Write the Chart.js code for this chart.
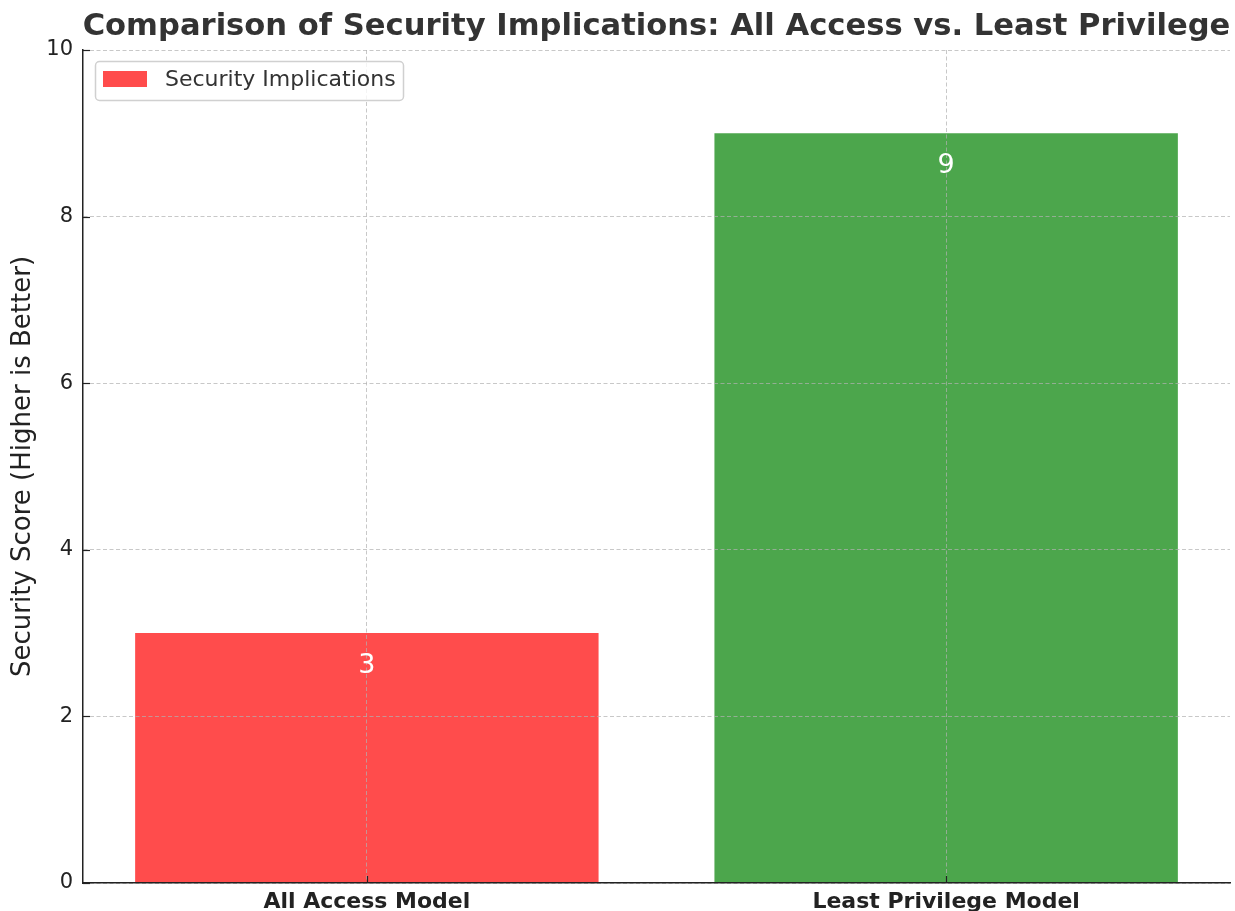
<!DOCTYPE html>
<html>
<head>
<meta charset="utf-8">
<script src="https://cdn.jsdelivr.net/npm/chart.js@4.4.1/dist/chart.umd.min.js"></script>
<style>
  html, body { margin: 0; padding: 0; background: #fff; }
  #wrap { width: 1235px; height: 911px; position: relative; }
</style>
</head>
<body>
<div id="wrap"><canvas id="c" width="1235" height="911"></canvas></div>
<script>
const chartTitle = 'Comparison of Security Implications: All Access vs. Least Privilege';
const categories = ['All Access Model', 'Least Privilege Model'];
const scores = [3, 9];
const barColors = ['rgba(255,0,0,0.7)', 'rgba(0,128,0,0.7)'];
const seriesName = 'Security Implications';
const yAxisTitle = 'Security Score (Higher is Better)';
const yTicks = [0, 2, 4, 6, 8, 10];

const FONT = "'DejaVu Sans', sans-serif";

const overlay = {
  id: 'overlay',
  afterDraw(chart) {
    const ctx = chart.ctx;
    const area = chart.chartArea;
    const xs = chart.scales.x, ys = chart.scales.y;
    ctx.save();
    // inward tick marks
    ctx.strokeStyle = '#222';
    ctx.lineWidth = 1.2;
    yTicks.forEach(v => {
      const y = Math.round(ys.getPixelForValue(v)) + 0.5;
      ctx.beginPath(); ctx.moveTo(area.left, y); ctx.lineTo(area.left + 7, y); ctx.stroke();
    });
    categories.forEach((c, i) => {
      const x = Math.round(xs.getPixelForValue(i)) + 0.5;
      ctx.beginPath(); ctx.moveTo(x, area.bottom); ctx.lineTo(x, area.bottom - 7); ctx.stroke();
    });
    // value labels inside bars
    ctx.fillStyle = '#ffffff';
    ctx.font = '27px ' + FONT;
    ctx.textAlign = 'center';
    ctx.textBaseline = 'middle';
    scores.forEach((v, i) => {
      ctx.fillText(String(v), xs.getPixelForValue(i), ys.getPixelForValue(v) + 33);
    });
    // title
    ctx.fillStyle = '#333333';
    ctx.font = 'bold 30.6px ' + FONT;
    ctx.fillText(chartTitle, (area.left + area.right) / 2, 27);
    // legend
    const lx = area.left + 12, ly = area.top + 11, lw = 308, lh = 39;
    ctx.beginPath();
    ctx.roundRect(lx + 0.5, ly + 0.5, lw, lh, 4);
    ctx.fillStyle = 'rgba(255,255,255,0.8)';
    ctx.fill();
    ctx.strokeStyle = '#d0d0d0';
    ctx.lineWidth = 1.5;
    ctx.stroke();
    ctx.fillStyle = barColors[0];
    ctx.fillRect(lx + 8, ly + 10, 44, 16);
    ctx.fillStyle = '#333333';
    ctx.font = '22px ' + FONT;
    ctx.textAlign = 'left';
    ctx.fillText(seriesName, lx + 70, ly + 19);
    ctx.restore();
  }
};

new Chart(document.getElementById('c'), {
  type: 'bar',
  data: {
    datasets: [{
      label: seriesName,
      data: scores.map((v, i) => ({ x: i, y: v })),
      backgroundColor: barColors,
      borderWidth: 0,
      barPercentage: 0.8,
      categoryPercentage: 1.0
    }]
  },
  options: {
    responsive: false,
    animation: false,
    devicePixelRatio: 1,
    layout: { padding: { top: 50, right: 5, left: 0, bottom: 0 } },
    plugins: {
      legend: { display: false },
      title: { display: false },
      tooltip: { enabled: false }
    },
    scales: {
      x: {
        type: 'linear',
        offset: false,
        min: -0.49, max: 1.49,
        afterFit(s) { s.height = 28; },
        afterBuildTicks(s) { s.ticks = categories.map((c, i) => ({ value: i })); },
        grid: { offset: false, drawTicks: false, color: 'rgba(176,176,176,0.7)', z: 1, lineWidth: 1 },
        border: { display: true, color: '#222', width: 1.5, dash: [4, 2.5], z: 2 },
        ticks: {
          padding: 6, color: '#222', font: { family: FONT, size: 22, weight: 'bold' },
          callback: (v) => categories[v] ?? ''
        }
      },
      y: {
        min: 0, max: 10,
        afterFit(s) { s.width = 83; },
        afterBuildTicks(s) { s.ticks = yTicks.map(v => ({ value: v })); },
        grid: { drawTicks: false, color: 'rgba(176,176,176,0.7)', z: 1, lineWidth: 1 },
        border: { display: true, color: '#222', width: 1.5, dash: [4, 2.5], z: 2 },
        ticks: { padding: 10, color: '#222', font: { family: FONT, size: 21 } },
        title: { display: true, text: yAxisTitle, color: '#222', font: { family: FONT, size: 26 }, padding: { top: 8, bottom: 0 } }
      }
    }
  },
  plugins: [overlay]
});
</script>
</body>
</html>
